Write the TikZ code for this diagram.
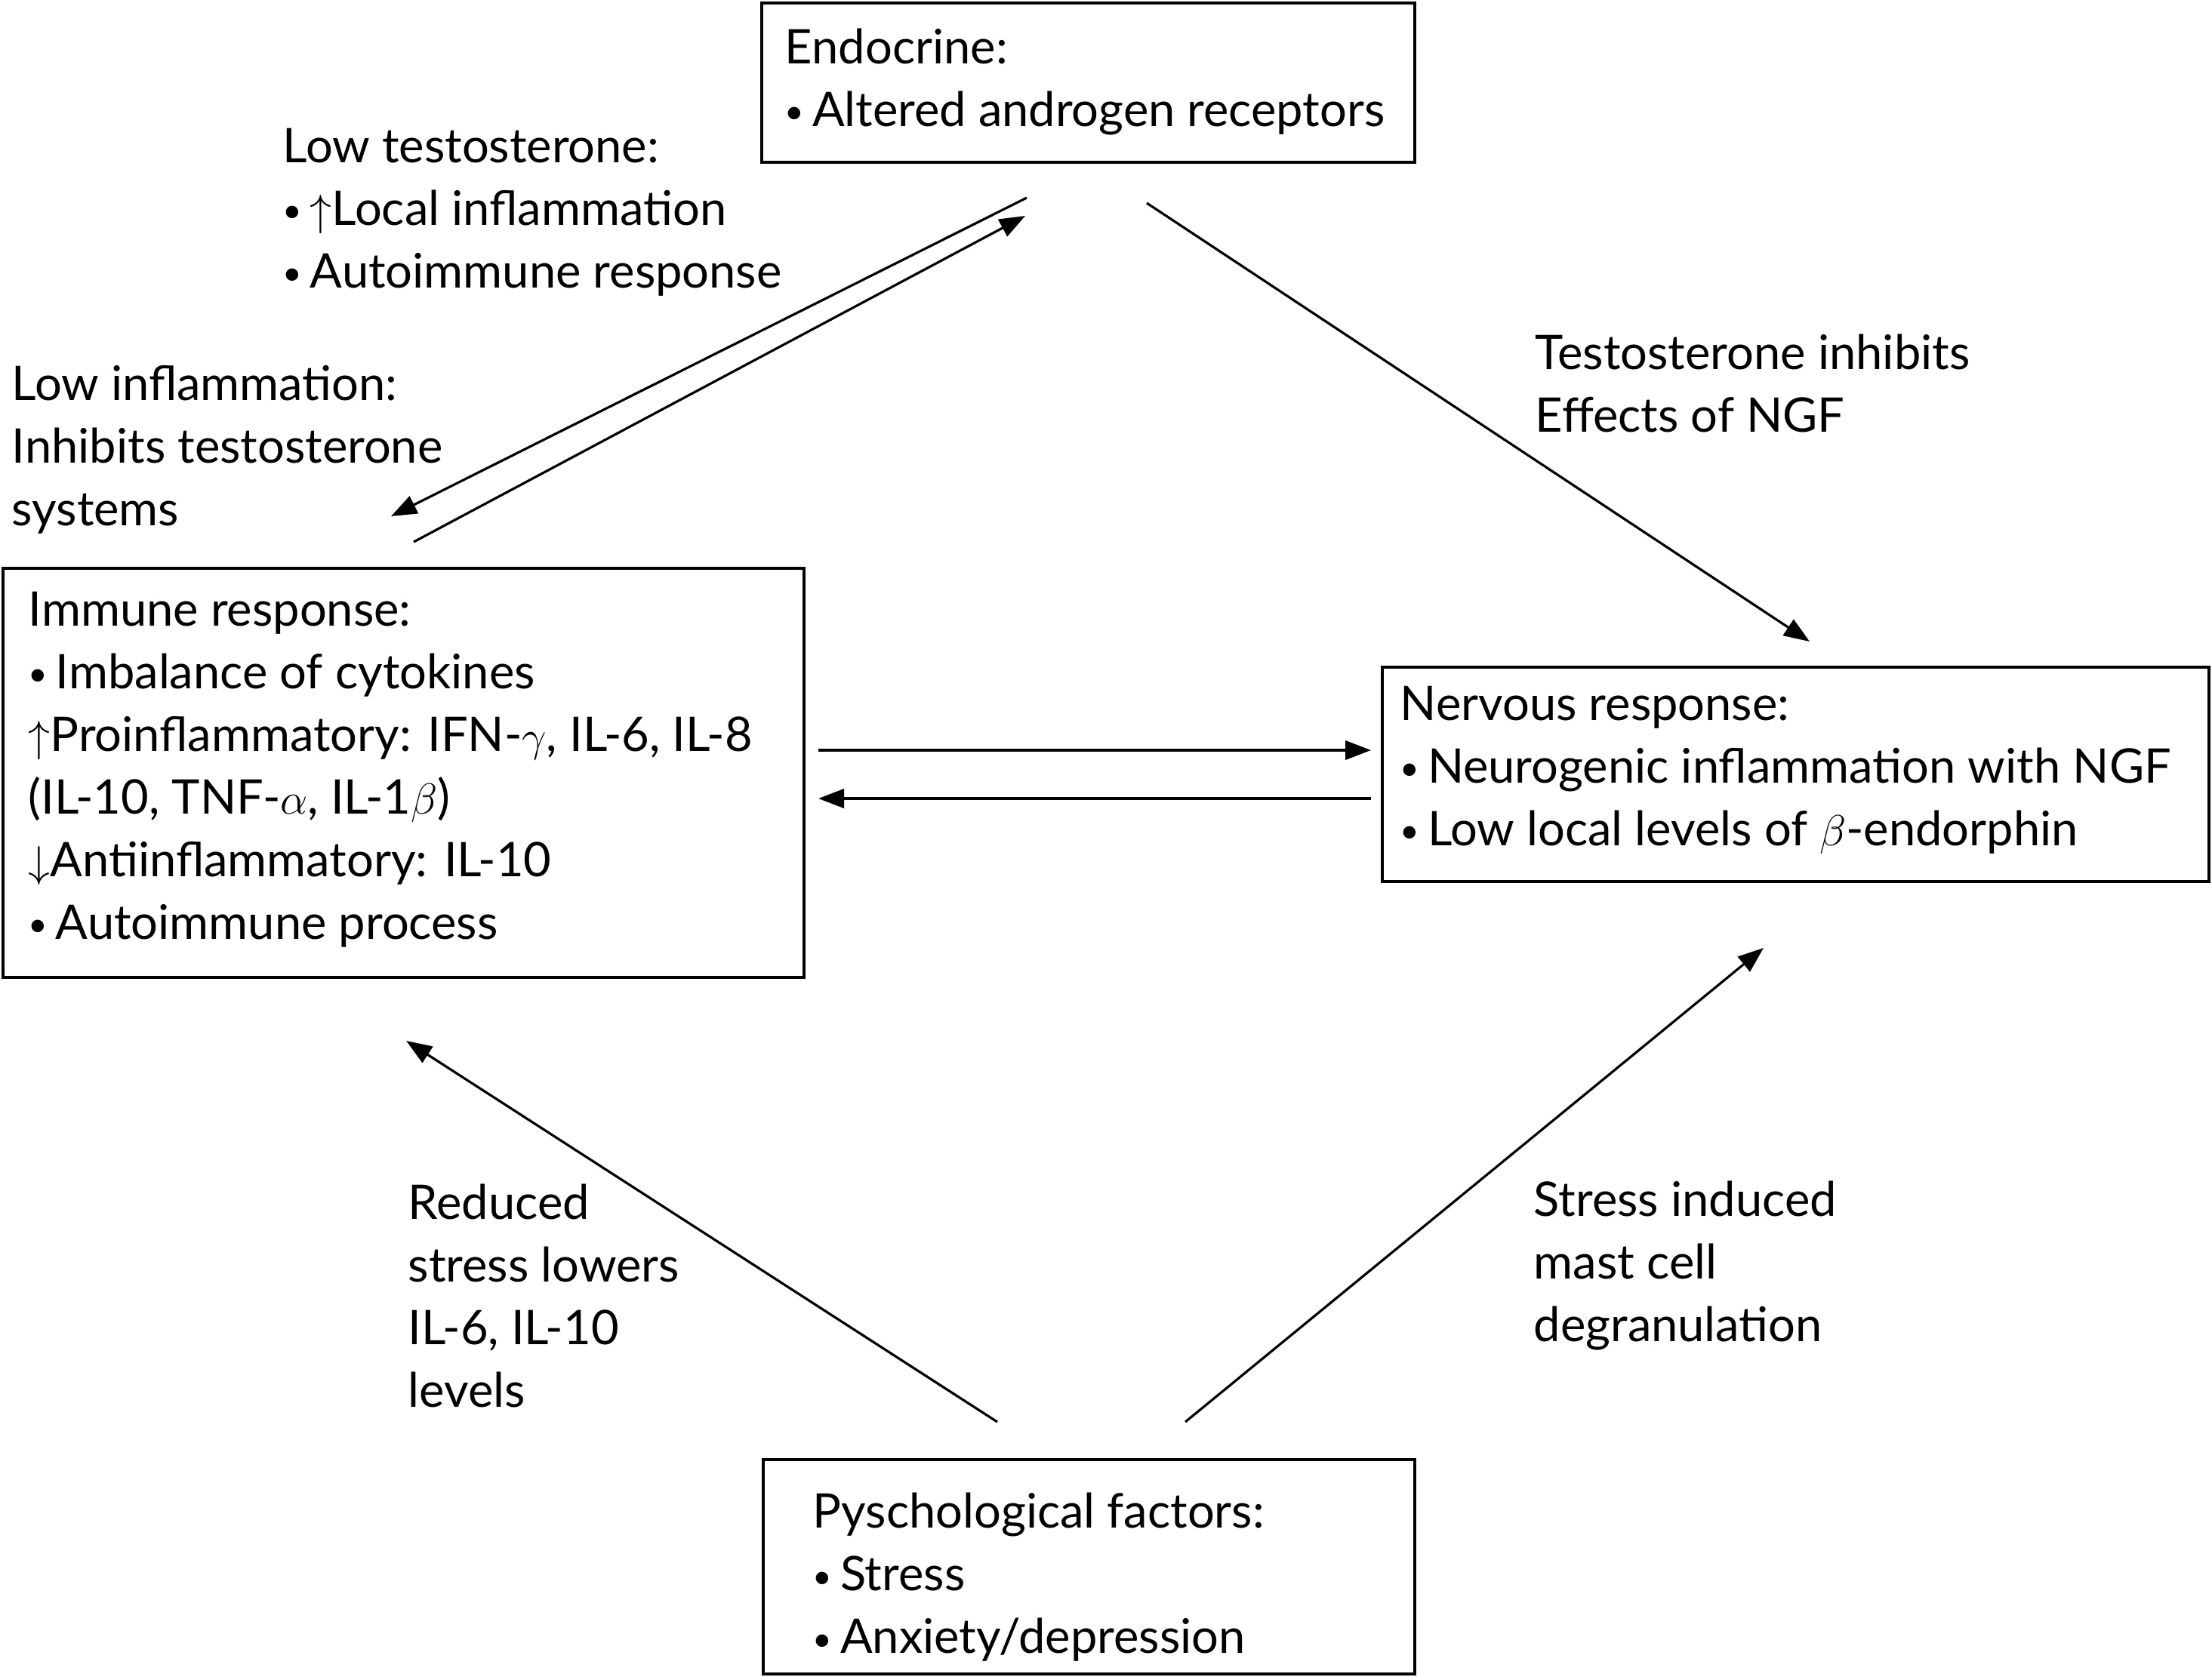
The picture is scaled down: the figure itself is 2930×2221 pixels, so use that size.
\documentclass[tikz,border=0pt]{standalone}
\usepackage{fontspec}
\setmainfont{Lato}
\usetikzlibrary{arrows.meta}
\newcommand\mybul{\raisebox{0.12ex}{\scalebox{0.7}{\textbullet}}\,}
\begin{document}
\begin{tikzpicture}[x=0.25pt,y=-0.25pt,
  box/.style={draw, line width=1.1pt, inner sep=0pt},
  txt/.style={anchor=west, align=left, inner sep=0pt, font=\fontsize{15.8}{20.75}\selectfont},
  arr/.style={line width=0.8pt, -{Triangle[length=8.5pt,width=6.3pt]}}]
\useasboundingbox (0,0) rectangle (2930,2221);
% boxes
\node[box, minimum width=216.25pt, minimum height=52.75pt] (endo) at (1441.5,109.5) {};
\node[box, minimum width=265.25pt, minimum height=135.5pt] (immune) at (534.5,1024) {};
\node[box, minimum width=273.75pt, minimum height=71pt] (nerv) at (2378.5,1026) {};
\node[box, minimum width=215.75pt, minimum height=71pt] (psych) at (1442.5,2076) {};
% box texts
\node[txt] (endotxt) at (1039,108) {Endocrine:\\\mybul Altered androgen receptors};
\node[txt] (immunetxt) at (37,1020) {Immune response:\\\mybul Imbalance of cytokines\\$\uparrow$Proinflammatory: IFN-$\gamma$, IL-6, IL-8\\(IL-10, TNF-$\alpha$, IL-1$\beta$)\\$\downarrow$Antiinflammatory: IL-10\\\mybul Autoimmune process};
\node[txt] (nervtxt) at (1854,1020) {Nervous response:\\\mybul Neurogenic inflammation with NGF\\\mybul Low local levels of $\beta$-endorphin};
\node[txt] (psychtxt) at (1076,2090) {Pyschological factors:\\\mybul Stress\\\mybul Anxiety/depression};
% labels
\node[txt] (lowtest) at (374,281) {Low testosterone:\\\mybul $\uparrow$Local inflammation\\\mybul Autoimmune response};
\node[txt] (lowinfl) at (15,596) {Low inflammation:\\Inhibits testosterone\\systems};
\node[txt] (testinh) at (2033,508) {Testosterone inhibits\\Effects of NGF};
\node[txt] (reduced) at (540,1717) {Reduced\\stress lowers\\IL-6, IL-10\\levels};
\node[txt] (stressind) at (2031,1677) {Stress induced\\mast cell\\degranulation};
% connector end points
\coordinate (a1s) at (1360,262); \coordinate (a1e) at (518,684);
\coordinate (a2s) at (548,718);  \coordinate (a2e) at (1358,286);
\coordinate (a3s) at (1519,269); \coordinate (a3e) at (2397,850);
\coordinate (a4s) at (1084,994); \coordinate (a4e) at (1816,994);
\coordinate (a5s) at (1816,1058); \coordinate (a5e) at (1084,1058);
\coordinate (a6s) at (1321,1884); \coordinate (a6e) at (538,1379);
\coordinate (a7s) at (1570,1884); \coordinate (a7e) at (2336,1256);
\draw[arr] (a1s) -- (a1e);
\draw[arr] (a2s) -- (a2e);
\draw[arr] (a3s) -- (a3e);
\draw[arr] (a4s) -- (a4e);
\draw[arr] (a5s) -- (a5e);
\draw[arr] (a6s) -- (a6e);
\draw[arr] (a7s) -- (a7e);
\end{tikzpicture}
\end{document}
